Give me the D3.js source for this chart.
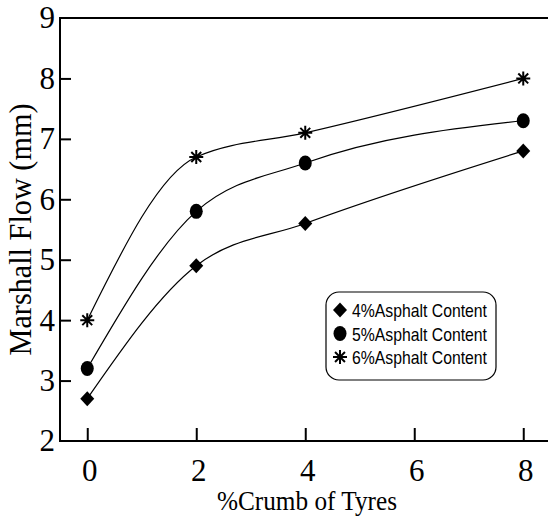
<!DOCTYPE html>
<html>
<head>
<meta charset="utf-8">
<script src="https://cdn.jsdelivr.net/npm/d3@7"></script>
<style>
  html, body { margin: 0; padding: 0; background: #fff; }
  svg { display: block; }
</style>
</head>
<body>
<svg id="chart" width="548" height="523"></svg>
<script>
// Crumb rubber content (% of tyres) on the x axis
const crumb = [0, 2, 4, 6, 8];
const crumbPoints = [0, 2, 4, 8];
// Marshall flow (mm) for each asphalt content
const flow4 = [2.7, 4.9, 5.6, 6.8];
const flow5 = [3.2, 5.8, 6.6, 7.3];
const flow6 = [4.0, 6.7, 7.1, 8.0];
const seriesNames = ["4%Asphalt Content", "5%Asphalt Content", "6%Asphalt Content"];
const yTicks = [2, 3, 4, 5, 6, 7, 8, 9];

const series = [
  { name: seriesNames[0], values: flow4, marker: "diamond" },
  { name: seriesNames[1], values: flow5, marker: "circle" },
  { name: seriesNames[2], values: flow6, marker: "star" }
];

const svg = d3.select("#chart");
const plotLeft = 60, plotTop = 18, plotBottom = 441, plotRight = 548;

const x = d3.scaleLinear().domain([-0.5, 8.5]).range([plotLeft, plotLeft + 9 * 54.5]);
const y = d3.scaleLinear().domain([2, 9]).range([plotBottom, plotTop]);

const serif = "'Liberation Serif', 'Times New Roman', serif";
const narrow = "'Liberation Sans Narrow', 'Liberation Sans', Arial, sans-serif";

// Frame: left axis, bottom axis and top edge
const frame = svg.append("g").attr("stroke", "#000").attr("stroke-width", 2).attr("fill", "none");
frame.append("line").attr("x1", plotLeft).attr("x2", plotLeft).attr("y1", plotTop).attr("y2", plotBottom);
frame.append("line").attr("x1", plotLeft - 1).attr("x2", plotRight).attr("y1", plotBottom).attr("y2", plotBottom);
frame.append("line").attr("x1", plotLeft - 1).attr("x2", plotRight).attr("y1", plotTop).attr("y2", plotTop);

// Y axis: inward ticks, labels on the left
const yAxis = d3.axisLeft(y).tickValues(yTicks).tickSize(0).tickPadding(5).tickFormat(d3.format("d"));
const gy = svg.append("g").attr("transform", `translate(${plotLeft},0)`).call(yAxis);
gy.select(".domain").remove();
gy.selectAll("text").attr("font-family", serif).attr("font-size", 31).attr("fill", "#000");
gy.selectAll(".tick").filter(d => d > 2 && d < 9).append("line")
  .attr("x1", 0).attr("x2", 11).attr("stroke", "#000").attr("stroke-width", 2);

// X axis: inward ticks, labels below
const xAxis = d3.axisBottom(x).tickValues(crumb).tickSize(0).tickPadding(18).tickFormat(d3.format("d"));
const gx = svg.append("g").attr("transform", `translate(0,${plotBottom})`).call(xAxis);
gx.select(".domain").remove();
gx.selectAll("text").attr("font-family", serif).attr("font-size", 31).attr("fill", "#000")
  .attr("dx", 2);
gx.selectAll(".tick").append("line")
  .attr("y1", 0).attr("y2", -13).attr("stroke", "#000").attr("stroke-width", 2);

// Axis titles
svg.append("text")
  .attr("transform", `translate(31,${(plotTop + plotBottom) / 2}) rotate(-90)`)
  .attr("text-anchor", "middle")
  .attr("font-family", serif).attr("font-size", 31)
  .attr("textLength", 252).attr("lengthAdjust", "spacingAndGlyphs")
  .text("Marshall Flow (mm)");

svg.append("text")
  .attr("x", 307).attr("y", 510)
  .attr("text-anchor", "middle")
  .attr("font-family", serif).attr("font-size", 28)
  .attr("textLength", 180).attr("lengthAdjust", "spacingAndGlyphs")
  .text("%Crumb of Tyres");

// Smooth curves through each series
const line = d3.line()
  .x((d, i) => x(crumbPoints[i]))
  .y(d => y(d))
  .curve(d3.curveMonotoneX);

svg.append("g").selectAll("path").data(series).join("path")
  .attr("d", d => line(d.values))
  .attr("fill", "none").attr("stroke", "#000").attr("stroke-width", 1.2);

// Marker shapes
function drawMarker(g, type) {
  if (type === "diamond") {
    g.append("path").attr("d", "M0,-7.5 L7,0 L0,7.5 L-7,0 Z").attr("fill", "#000");
  } else if (type === "circle") {
    g.append("ellipse").attr("rx", 6.5).attr("ry", 7.5).attr("fill", "#000");
  } else {
    const r = 7;
    const p = [];
    for (let k = 0; k < 4; k++) {
      const a = k * Math.PI / 4;
      p.push(`M${-r * Math.sin(a)},${-r * Math.cos(a)}L${r * Math.sin(a)},${r * Math.cos(a)}`);
    }
    g.append("path").attr("d", p.join("")).attr("stroke", "#000").attr("stroke-width", 2);
  }
}

series.forEach(s => {
  s.values.forEach((v, i) => {
    const g = svg.append("g").attr("transform", `translate(${x(crumbPoints[i])},${y(v)})`);
    drawMarker(g, s.marker);
  });
});

// Legend
const legend = svg.append("g");
legend.append("rect")
  .attr("x", 326).attr("y", 292).attr("width", 170).attr("height", 88)
  .attr("rx", 13).attr("ry", 13)
  .attr("fill", "#fff").attr("stroke", "#000").attr("stroke-width", 1.2);

series.forEach((s, i) => {
  const cy = 310 + i * 23.5;
  const g = legend.append("g").attr("transform", `translate(340,${cy})`);
  drawMarker(g, s.marker);
  legend.append("text")
    .attr("x", 352).attr("y", cy + 7)
    .attr("font-family", narrow).attr("font-size", 19)
    .attr("textLength", 135).attr("lengthAdjust", "spacingAndGlyphs")
    .text(s.name);
});
</script>
</body>
</html>
